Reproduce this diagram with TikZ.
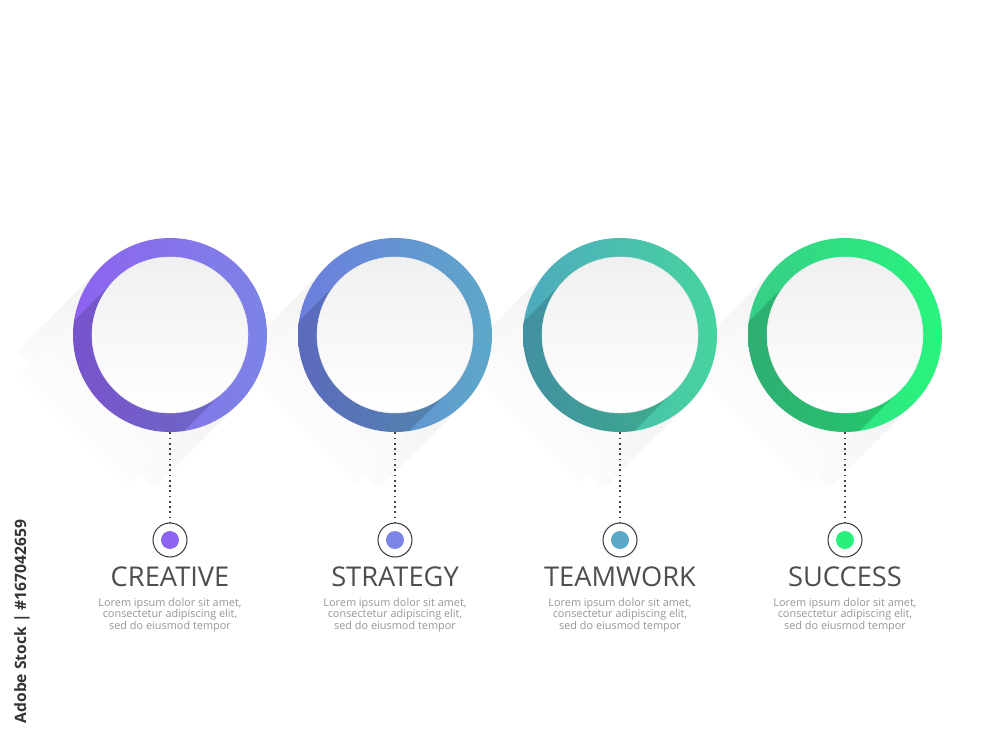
\documentclass[tikz,border=0pt]{standalone}
\usepackage{fontspec}
\setmainfont{Open Sans}
\usepackage{tikz}
\usetikzlibrary{positioning}
\usepackage{color}
\definecolor{creativeL}{RGB}{142, 98, 240}
\definecolor{creativeR}{RGB}{124, 132, 230}
\definecolor{strategyL}{RGB}{108, 125, 222}
\definecolor{strategyR}{RGB}{ 92, 168, 200}
\definecolor{teamworkL}{RGB}{ 78, 170, 190}
\definecolor{teamworkR}{RGB}{ 70, 212, 158}
\definecolor{successL}{RGB}{ 55, 205, 135}
\definecolor{successR}{RGB}{ 40, 245, 125}
\definecolor{creativeD}{RGB}{140, 100, 240}
\definecolor{strategyD}{RGB}{124, 132, 230}
\definecolor{teamworkD}{RGB}{ 90, 168, 198}
\definecolor{successD}{RGB}{ 40, 240, 122}
\definecolor{titlegray}{RGB}{ 78, 78, 78}
\definecolor{loremgray}{RGB}{150, 150, 150}

\tikzset{
  ringnode/.style  = {circle, inner sep=0pt, minimum size=3.88cm},
  dotnode/.style   = {circle, inner sep=0pt, minimum size=0.68cm, draw=black!75, line width=0.6pt},
  titletext/.style = {anchor=base, inner sep=0pt, text=titlegray, font=\fontsize{15.5}{18}\selectfont},
  loremtext/.style = {anchor=north, inner sep=0pt, align=center, text=loremgray, font=\fontsize{6.2}{6.4}\selectfont},
  dotline/.style   = {dotted, line width=1pt, black!75}
}

\begin{document}
\begin{tikzpicture}
    \fill[white] (0.00, 0.00) rectangle (20.00, 15.00);
    \useasboundingbox (0.00, 0.00) rectangle (20.00, 15.00);

    % soft grey shadows behind the rings
    \foreach \x in {3.40, 7.90, 12.40, 16.90}{
        \shade[top color=black!7, bottom color=white, shading angle=-45]
            (\x, 8.30) ++(-1.37, 1.37) -- ++(2.74, -2.74) -- ++(-1.70, -1.70) -- ++(-2.74, 2.74) -- cycle;
        \shade[top color=black!5, bottom color=white, shading angle=-45]
            (\x, 8.30) ++(-1.10, 1.10) -- ++(2.20, -2.20) -- ++(-1.90, -1.90) -- ++(-2.20, 2.20) -- cycle;
    }

    \foreach \x/\name/\word in {3.40/creative/CREATIVE, 7.90/strategy/STRATEGY,
                                12.40/teamwork/TEAMWORK, 16.90/success/SUCCESS}{
        % ring with its long shadow
        \node[ringnode, left color=\name L, right color=\name R] (\name-ring) at (\x, 8.30) {};
        \begin{scope}
            \clip (\x, 8.30) circle (1.94);
            \fill[black, opacity=0.15]
                (\x, 8.30) ++(-1.10, 1.10) -- ++(2.20, -2.20) -- ++(-3.00, -3.00) -- ++(-2.20, 2.20) -- cycle;
        \end{scope}
        \shade[top color=black!6, bottom color=white, draw=black!8, line width=0.3pt] (\x, 8.30) circle (1.56);

        % marker, title and text
        \node[dotnode] (\name-dot) at (\x, 4.20) {};
        \fill[\name D] (\name-dot.center) circle (0.18);
        \draw[dotline] (\name-ring) -- (\name-dot);
        \node[titletext] (\name-title) at (\x, 3.28) {\word};
        \node[loremtext] (\name-lorem) at (\x, 3.04)
            {Lorem ipsum dolor sit amet,\\consectetur adipiscing elit,\\sed do eiusmod tempor};
    }

    \node[rotate=90, text=black!80, font=\fontsize{8.9}{10}\selectfont\bfseries] (stock-mark) at (0.44, 2.57)
        {Adobe Stock | \#167042659};
\end{tikzpicture}
\end{document}
